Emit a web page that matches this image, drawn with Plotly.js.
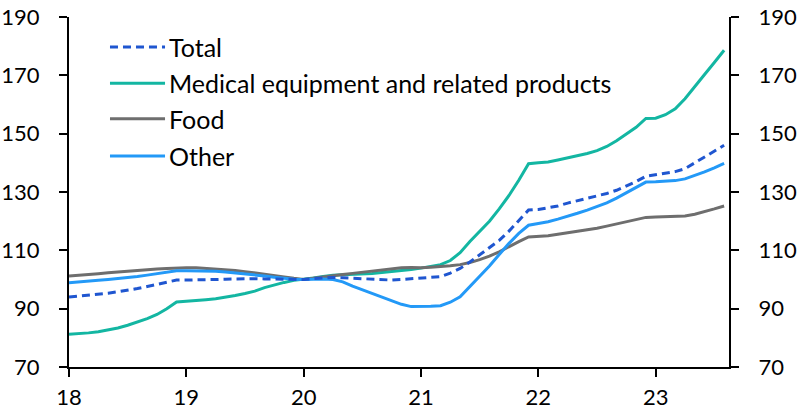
<!DOCTYPE html>
<html>
<head>
<meta charset="utf-8">
<script src="https://cdn.plot.ly/plotly-3.0.1.min.js"></script>
<style>html,body{margin:0;padding:0;background:#fff;}#chart{width:798px;height:418px;}</style>
</head>
<body>
<div id="chart"></div>
<script>
// Monthly index values, Jan 2018 .. Aug 2023 (Jan 2020 = 100)
const startYear = 18;
const seriesNames = ["Total", "Medical equipment and related products", "Food", "Other"];
const total = [94.0,94.3,94.6,94.9,95.3,95.8,96.3,96.9,97.6,98.4,99.2,99.8,
  99.8,99.8,99.9,100.0,100.1,100.2,100.3,100.3,100.2,100.2,100.1,100.0,
  100.0,100.3,100.6,100.7,100.6,100.4,100.2,100.0,99.8,99.8,100.0,100.2,
  100.5,100.7,101.0,102.2,103.8,106.0,108.4,110.9,113.4,116.6,120.3,123.8,
  124.0,124.5,125.2,126.2,127.0,127.8,128.6,129.5,130.6,132.0,133.6,135.4,
  135.9,136.3,137.0,138.0,140.0,142.0,144.0,146.0];
const medical = [81.2,81.4,81.7,82.1,82.7,83.4,84.3,85.4,86.6,88.0,90.0,92.3,
  92.5,92.8,93.1,93.4,93.9,94.5,95.2,96.0,97.2,98.2,99.0,99.7,
  100.0,100.5,101.0,101.5,101.6,101.7,101.9,102.1,102.4,102.7,103.0,103.4,
  103.9,104.4,105.1,106.5,109.2,113.0,116.5,120.0,124.2,128.8,134.0,139.7,
  140.0,140.3,141.0,141.7,142.4,143.2,144.2,145.6,147.6,149.8,152.2,155.2,
  155.3,156.5,158.5,162.0,166.0,170.3,174.4,178.6];
const food = [101.2,101.4,101.7,102.0,102.3,102.6,102.9,103.2,103.4,103.6,103.8,104.0,
  104.0,104.0,103.8,103.6,103.4,103.1,102.7,102.3,101.9,101.4,100.9,100.4,
  100.0,100.4,100.9,101.3,101.7,102.1,102.5,102.9,103.3,103.7,104.0,104.1,
  104.0,104.2,104.4,104.7,105.1,105.8,106.8,108.0,109.5,111.3,113.0,114.6,
  114.7,115.0,115.5,116.0,116.5,117.0,117.6,118.3,119.0,119.8,120.6,121.3,
  121.4,121.5,121.6,121.8,122.4,123.2,124.2,125.2];
const other = [98.9,99.1,99.4,99.7,100.0,100.3,100.6,101.0,101.5,102.0,102.6,103.0,
  103.0,103.0,102.9,102.8,102.6,102.3,102.0,101.6,101.2,100.8,100.4,100.1,
  100.0,100.1,100.2,100.0,99.2,97.7,96.5,95.2,94.0,92.8,91.5,90.7,
  90.7,90.8,91.0,92.2,94.1,97.5,101.0,104.6,108.6,112.4,115.8,118.6,
  119.2,119.8,120.7,121.6,122.7,123.8,125.0,126.3,127.9,129.7,131.6,133.4,
  133.5,133.6,133.9,134.5,135.6,136.9,138.3,139.8];
const xTickVals = [18, 19, 20, 21, 22, 23];
const xTickText = ["18", "19", "20", "21", "22", "23"];
const yTickVals = [70, 90, 110, 130, 150, 170, 190];

const colors = ["#1f56d0", "#13b6a2", "#6e6e6e", "#2399f7"];
const dashes = ["8px,5px", "solid", "solid", "solid"];
const seriesData = [total, medical, food, other];

const xs = total.map((_, i) => startYear + i / 12);
const FONT = "Lato, 'Open Sans', sans-serif";

// Draw order: medical, food, other, total on top
const order = [1, 2, 3, 0];
const traces = order.map(k => ({
  x: xs, y: seriesData[k], type: "scatter", mode: "lines", name: seriesNames[k],
  line: {color: colors[k], width: 3, dash: dashes[k]}, showlegend: false, hoverinfo: "skip"
}));

// custom legend
const legendRowsY = [0.914, 0.811, 0.709, 0.603];
const shapes = [], annotations = [];
seriesNames.forEach((n, k) => {
  shapes.push({type: "line", xref: "paper", yref: "paper", x0: 0.0621, x1: 0.1455,
    y0: legendRowsY[k], y1: legendRowsY[k], line: {color: colors[k], width: 3, dash: dashes[k]}});
  annotations.push({xref: "paper", yref: "paper", x: 0.149, y: legendRowsY[k], xanchor: "left",
    yanchor: "middle", text: n, showarrow: false, font: {family: FONT, size: 25, color: "#000"}});
});

const axisCommon = {
  showline: true, linecolor: "#000", linewidth: 2, showgrid: false, zeroline: false,
  ticks: "outside", ticklen: 8, tickwidth: 2, tickcolor: "#000",
  tickfont: {family: FONT, size: 22, color: "#000"}
};

const layout = {
  width: 798, height: 418,
  margin: {l: 69, r: 69, t: 17, b: 51},
  paper_bgcolor: "#fff", plot_bgcolor: "#fff",
  showlegend: false,
  xaxis: Object.assign({}, axisCommon, {range: [18, 23.625], tickvals: xTickVals, ticktext: xTickText,
    ticklabelstandoff: 2}),
  yaxis: Object.assign({}, axisCommon, {range: [70, 190], tickvals: yTickVals, ticklabelstandoff: 15}),
  yaxis2: Object.assign({}, axisCommon, {range: [70, 190], tickvals: yTickVals, overlaying: "y",
    side: "right", anchor: "x", ticklabelstandoff: 15}),
  shapes: shapes, annotations: annotations
};

// invisible trace on y2 so the right axis is drawn
traces.push({x: [18], y: [100], yaxis: "y2", type: "scatter", mode: "markers",
  marker: {opacity: 0}, showlegend: false, hoverinfo: "skip"});

Plotly.newPlot("chart", traces, layout, {staticPlot: true, displayModeBar: false});
</script>
</body>
</html>
